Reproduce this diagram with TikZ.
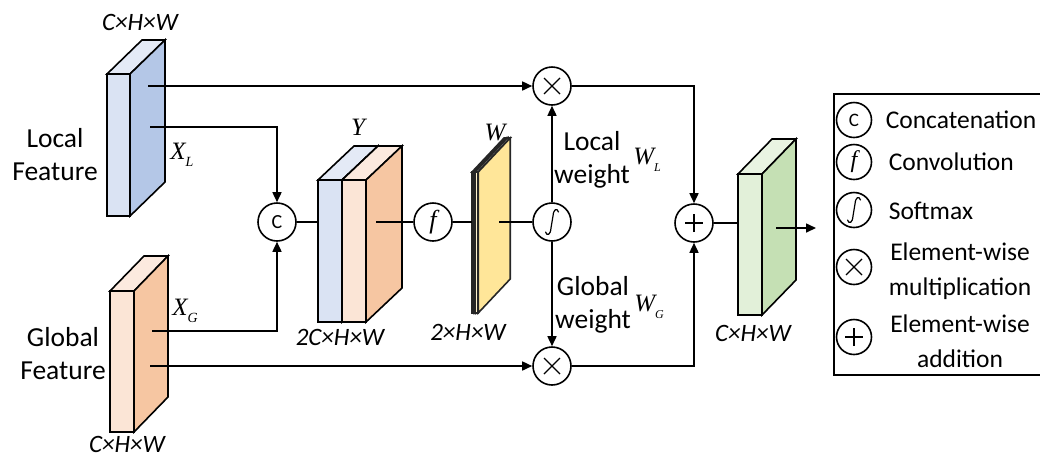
\documentclass[tikz,border=0pt]{standalone}
\usepackage{fontspec}
\setmainfont{Carlito}
\newfontfamily\tnr{Liberation Serif}
\usetikzlibrary{arrows.meta}

% cuboid: x, y (front top-left), width, height, depth dx, depth dy, front, side, top colours
\newcommand\cuboid[9]{%
  \filldraw[fill=#9] (#1,#2) -- ++(#3,0) -- ++(#5,-#6) -- ++(-#3,0) -- cycle;
  \filldraw[fill=#8] (#1+#3,#2) -- ++(#5,-#6) -- ++(0,#4) -- ++(-#5,#6) -- cycle;
  \filldraw[fill=#7] (#1,#2) rectangle ++(#3,#4);
}

\definecolor{blueF}{HTML}{DAE3F3}
\definecolor{blueS}{HTML}{B4C7E7}
\definecolor{blueT}{HTML}{E4EAF6}
\definecolor{peachF}{HTML}{FBE5D6}
\definecolor{peachS}{HTML}{F6C6A2}
\definecolor{peachT}{HTML}{FCEADF}
\definecolor{yel}{HTML}{FFE699}
\definecolor{yelF}{HTML}{FFF2CC}
\definecolor{greenF}{HTML}{E2F0D9}
\definecolor{greenS}{HTML}{C5E0B4}
\definecolor{greenT}{HTML}{E9F4E2}

\tikzset{
  every path/.style={line width=1.6pt, line join=miter},
  op/.style={circle, draw, line width=1.6pt, minimum size=38pt, inner sep=0pt, fill=white},
  lop/.style={op, minimum size=35pt},
  arr/.style={-{Triangle[length=10pt,width=9pt]}},
  lbl/.style={font=\fontsize{27.5}{33}\selectfont, align=center, inner sep=0pt},
  dim/.style={font=\fontsize{25}{29}\selectfont\itshape, inner sep=0pt},
  var/.style={font=\fontsize{25}{27}\selectfont\tnr\itshape, inner sep=0pt},
  legtxt/.style={font=\fontsize{25.5}{35}\selectfont, inner sep=0pt, align=center},
  times/.style={path picture={
    \draw[line width=1.1pt] ([shift={(-8pt,-8pt)}]path picture bounding box.center) -- ++(16pt,16pt)
      ([shift={(-8pt,8pt)}]path picture bounding box.center) -- ++(16pt,-16pt);}},
  plus/.style={path picture={
    \draw[line width=2.4pt] ([shift={(-9pt,0pt)}]path picture bounding box.center) -- ++(18pt,0pt)
      ([shift={(0pt,-9pt)}]path picture bounding box.center) -- ++(0pt,18pt);}},
  integ/.style={path picture={
    \coordinate (ic) at (path picture bounding box.center);
    \draw[line width=1.2pt, line cap=round]
      ([shift={(6.5pt,10pt)}]ic) .. controls ([shift={(5pt,14.5pt)}]ic) and ([shift={(1.5pt,13pt)}]ic) ..
      ([shift={(1pt,6pt)}]ic) -- ([shift={(-1pt,-6pt)}]ic) .. controls ([shift={(-1.5pt,-13pt)}]ic)
      and ([shift={(-5pt,-14.5pt)}]ic) .. ([shift={(-6.5pt,-10pt)}]ic);}},
  sheet/.style={line width=0.55pt, draw=black!85},
}

\begin{document}
\begin{tikzpicture}[x=1pt,y=-1pt]
\useasboundingbox (0,0) rectangle (1040,459);

% feature blocks
\cuboid{107}{74}{23}{142}{35}{34}{blueF}{blueS}{blueT}
\cuboid{110}{291}{24}{141}{34}{35}{peachF}{peachS}{peachT}
\cuboid{318}{180}{24}{142}{36}{34}{blueF}{blueS}{blueT}
\cuboid{342}{180}{24}{142}{36}{34}{peachF}{peachS}{peachT}
% stacked weight sheets
\begin{scope}[sheet]
\cuboid{472}{172}{2.5}{141}{32}{34}{black!8}{black!30}{black!35}
\cuboid{473.6}{172}{2.5}{141}{32}{34}{black!8}{black!30}{black!35}
\cuboid{475.2}{172}{3}{141}{32}{34}{yelF}{yel}{black!35}
\end{scope}
\cuboid{738}{174}{24}{141}{34}{35}{greenF}{greenS}{greenT}

% connection points on the blocks
\coordinate (xl1) at (148,86);
\coordinate (xl2) at (150,127);
\coordinate (xg1) at (152,331);
\coordinate (xg2) at (150,366);
\coordinate (yin) at (318,222);
\coordinate (yout) at (376,222);
\coordinate (win) at (472,222);
\coordinate (wout) at (499,222);
\coordinate (oin) at (738,223);
\coordinate (oout) at (776,228);
\coordinate (oend) at (816,228);

% operators
\node[op, font=\fontsize{20}{20}\selectfont] (cat) at (277,222) {C};
\node[op, font=\fontsize{26}{26}\selectfont\tnr\itshape] (conv) at (433,222) {f};
\node[op, integ] (soft) at (552,222) {};
\node[op, times] (mul1) at (552,86) {};
\node[op, times] (mul2) at (552,366) {};
\node[op, plus] (add) at (694,223) {};

% connectors
\draw[arr] (xl1) -- (mul1);
\draw[arr] (xl2) -| (cat);
\draw[arr] (xg1) -| (cat);
\draw[arr] (xg2) -- (mul2);
\draw (cat) -- (yin);
\draw (yout) -- (conv);
\draw (conv) -- (win);
\draw (wout) -- (soft);
\draw[arr] (soft) -- (mul1);
\draw[arr] (soft) -- (mul2);
\draw[arr] (mul1) -| (add);
\draw[arr] (mul2) -| (add);
\draw (add) -- (oin);
\draw[arr] (oout) -- (oend);

% labels
\node[dim] (d1) at (140,22) {C×H×W};
\node[dim] (d2) at (127,444) {C×H×W};
\node[dim] (d3) at (340,337) {2C×H×W};
\node[dim] (d4) at (468,332) {2×H×W};
\node[dim] (d5) at (753,333) {C×H×W};
\node[lbl] (lf) at (55,155) {Local\\Feature};
\node[lbl] (gf) at (63,354) {Global\\Feature};
\node[lbl] (lw) at (592,160) {Local\\weight};
\node[lbl] (gw) at (593,305) {Global\\weight};
\node[var] (vxl) at (182,155) {X\raisebox{-0.3em}{\fontsize{14}{14}\selectfont L}};
\node[var] (vxg) at (185,311) {X\raisebox{-0.3em}{\fontsize{14}{14}\selectfont G}};
\node[var] (vy) at (358,127) {Y};
\node[var] (vw) at (495,132) {W};
\node[var] (vwl) at (647,160) {W\raisebox{-0.3em}{\fontsize{12}{12}\selectfont L}};
\node[var] (vwg) at (649,307) {W\raisebox{-0.3em}{\fontsize{12}{12}\selectfont G}};

% legend
\draw[line width=1.3pt] (834,94) rectangle (1046,375);
\node[lop, font=\fontsize{19}{19}\selectfont] (lc) at (854,120) {C};
\node[lop, font=\fontsize{24}{24}\selectfont\tnr\itshape] (lfc) at (854,162) {f};
\node[lop, integ] (ls) at (854,210) {};
\node[lop, times] (lm) at (854,267) {};
\node[lop, plus] (la) at (854,337) {};
\node[legtxt, anchor=west] (tc) at (885,120) {Concatenation};
\node[legtxt, anchor=west] (tf) at (888,162) {Convolution};
\node[legtxt, anchor=west] (ts) at (888,211) {Softmax};
\node[legtxt] (tm) at (960,271) {Element-wise\\multiplication};
\node[legtxt] (ta) at (960,341) {Element-wise\\addition};
\end{tikzpicture}
\end{document}
